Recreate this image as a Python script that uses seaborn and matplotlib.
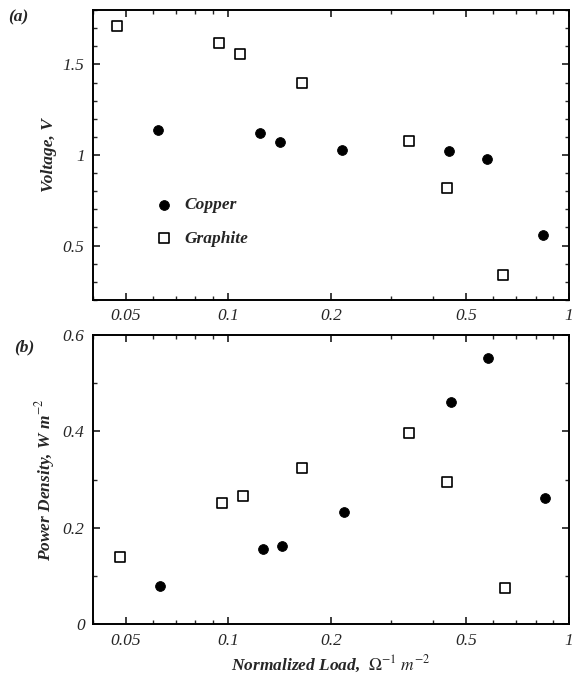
"""Voltage and power density vs normalized load for copper and graphite electrodes."""

import matplotlib
matplotlib.use("Agg")
import matplotlib.pyplot as plt
import numpy as np
import pandas as pd
import seaborn as sns
from matplotlib.ticker import FixedLocator, FixedFormatter, MultipleLocator

# --- data ---
copper_load = [0.062, 0.124, 0.142, 0.216, 0.444, 0.574, 0.839]
copper_voltage = [1.14, 1.12, 1.07, 1.03, 1.02, 0.98, 0.56]
copper_load_p = [0.063, 0.126, 0.144, 0.219, 0.450, 0.578, 0.850]
copper_power = [0.079, 0.156, 0.163, 0.233, 0.462, 0.552, 0.262]

graphite_load = [0.0472, 0.094, 0.108, 0.164, 0.339, 0.438, 0.640]
graphite_voltage = [1.71, 1.62, 1.56, 1.40, 1.08, 0.82, 0.34]
graphite_load_p = [0.048, 0.096, 0.110, 0.165, 0.340, 0.440, 0.648]
graphite_power = [0.140, 0.252, 0.267, 0.325, 0.396, 0.296, 0.075]

x_ticks = [0.05, 0.1, 0.2, 0.5, 1]
x_tick_labels = ["0.05", "0.1", "0.2", "0.5", "1"]

sns.set_theme(style="ticks")
plt.rcParams.update({
    "font.family": ["Liberation Serif", "DejaVu Serif"],
    "mathtext.fontset": "stix",
    "xtick.direction": "in", "ytick.direction": "in",
    "xtick.top": True, "ytick.right": True,
    "xtick.major.size": 5, "ytick.major.size": 5,
    "xtick.minor.size": 3, "ytick.minor.size": 3,
    "axes.linewidth": 1.4, "axes.edgecolor": "black",
})

df_v = pd.DataFrame({
    "load": copper_load + graphite_load,
    "value": copper_voltage + graphite_voltage,
    "metal": ["Copper"] * len(copper_load) + ["Graphite"] * len(graphite_load),
})
df_p = pd.DataFrame({
    "load": copper_load_p + graphite_load_p,
    "value": copper_power + graphite_power,
    "metal": ["Copper"] * len(copper_load_p) + ["Graphite"] * len(graphite_load_p),
})

fig = plt.figure(figsize=(5.74, 6.77), dpi=100)
ax1 = fig.add_axes([0.162, 0.557, 0.829, 0.428])
ax2 = fig.add_axes([0.162, 0.078, 0.829, 0.427])

FONT = dict(fontsize=12.5, fontstyle="italic")
LABEL = dict(fontsize=12.5, fontstyle="italic", fontweight="bold")


def draw(ax, df):
    cu = df[df["metal"] == "Copper"]
    gr = df[df["metal"] == "Graphite"]
    sns.scatterplot(data=cu, x="load", y="value", marker="o", s=50,
                    color="black", edgecolor="black", ax=ax, label="Copper")
    sns.scatterplot(data=gr, x="load", y="value", marker="s", s=50,
                    facecolor="white", edgecolor="black", linewidth=1.2,
                    ax=ax, label="Graphite")
    ax.set_xscale("log")
    ax.set_xlim(0.04, 1)
    ax.xaxis.set_major_locator(FixedLocator(x_ticks))
    ax.xaxis.set_major_formatter(FixedFormatter(x_tick_labels))
    ax.xaxis.set_minor_locator(FixedLocator(
        [0.04, 0.06, 0.07, 0.08, 0.09, 0.3, 0.4, 0.6, 0.7, 0.8, 0.9]))
    ax.xaxis.set_minor_formatter(FixedFormatter([""] * 11))
    ax.tick_params(which="both", labelsize=12.5, pad=6)
    for t in ax.get_xticklabels() + ax.get_yticklabels():
        t.set_fontstyle("italic")
    ax.set_xlabel("")


draw(ax1, df_v)
ax1.set_ylim(0.2, 1.8)
ax1.yaxis.set_major_locator(FixedLocator([0.5, 1, 1.5]))
ax1.yaxis.set_major_formatter(FixedFormatter(["0.5", "1", "1.5"]))
ax1.yaxis.set_minor_locator(MultipleLocator(0.1))
for t in ax1.get_xticklabels() + ax1.get_yticklabels():
    t.set_fontstyle("italic")
ax1.set_ylabel("Voltage, V", **LABEL)
ax1.legend(loc="lower left", bbox_to_anchor=(0.08, 0.13), frameon=False,
           prop={"family": "Liberation Serif", "style": "italic", "weight": "bold", "size": 12.5},
           handletextpad=0.2, labelspacing=1.0, markerscale=1.0)

draw(ax2, df_p)
ax2.set_ylim(0, 0.6)
ax2.yaxis.set_major_locator(FixedLocator([0, 0.2, 0.4, 0.6]))
ax2.yaxis.set_major_formatter(FixedFormatter(["0", "0.2", "0.4", "0.6"]))
ax2.yaxis.set_minor_locator(MultipleLocator(0.1))
for t in ax2.get_xticklabels() + ax2.get_yticklabels():
    t.set_fontstyle("italic")
ax2.set_ylabel(r"Power Density, W m$^{-2}$", **LABEL)
ax2.set_xlabel(r"Normalized Load,  $\Omega^{-1}\ m^{-2}$", **LABEL)
ax2.get_legend().remove()

fig.text(0.015, 0.975, "(a)", ha="left", va="center", **LABEL)
fig.text(0.025, 0.487, "(b)", ha="left", va="center", **LABEL)

fig.savefig("out.png", dpi=100)
